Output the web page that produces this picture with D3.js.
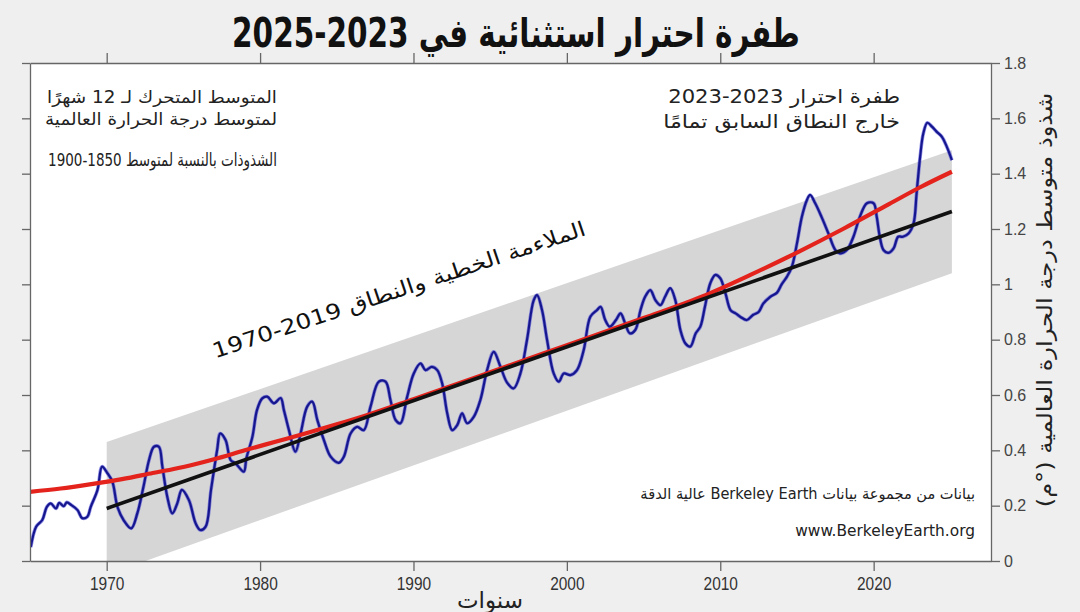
<!DOCTYPE html>
<html><head><meta charset="utf-8">
<script src="https://cdn.jsdelivr.net/npm/d3@7"></script>
<style>
html,body{margin:0;padding:0;background:#efefef;}
svg{display:block;}
text{font-family:"Liberation Sans","DejaVu Sans",sans-serif;}
</style></head>
<body><svg id="c" width="1080" height="612"></svg>
<script>
// ---------- data ----------
const blueYears = [1965.05,1965.4,1965.8,1966.1,1966.35,1966.7,1966.9,1967.2,1967.4,1967.7,1968.1,1968.4,1968.74,1968.96,1969.4,1969.7,1970.04,1970.37,1970.7,1971.1,1971.6,1972.0,1972.4,1972.76,1973.08,1973.4,1973.63,1973.95,1974.28,1974.6,1974.9,1975.36,1975.8,1976.1,1976.45,1976.8,1977.2,1977.4,1977.75,1978.08,1978.4,1978.94,1979.1,1979.5,1979.8,1980.14,1980.47,1980.9,1981.34,1981.55,1981.88,1982.3,1982.64,1983.07,1983.4,1983.73,1984.16,1984.6,1985.13,1985.46,1985.9,1986.33,1986.76,1987.2,1987.74,1988.18,1988.5,1988.83,1989.15,1989.59,1990.02,1990.46,1990.78,1991.2,1991.55,1991.87,1992.2,1992.52,1992.85,1993.17,1993.5,1993.93,1994.36,1994.8,1995.23,1995.67,1996.1,1996.53,1996.97,1997.4,1997.84,1998.06,1998.38,1998.71,1999.14,1999.47,1999.8,2000.23,2000.66,2001.1,2001.53,2001.97,2002.2,2002.5,2002.8,2003.2,2003.5,2003.8,2004.1,2004.46,2004.8,2005.1,2005.44,2005.77,2006.1,2006.4,2006.74,2007.07,2007.4,2007.72,2008.05,2008.4,2008.7,2009.0,2009.35,2009.68,2010.0,2010.34,2010.67,2011.0,2011.3,2011.73,2012.15,2012.5,2012.8,2013.26,2013.7,2014.0,2014.35,2014.67,2015.0,2015.32,2015.65,2015.86,2016.19,2016.6,2017.05,2017.5,2017.8,2018.25,2018.68,2019.1,2019.56,2020.0,2020.2,2020.4,2020.64,2020.96,2021.3,2021.6,2021.9,2022.27,2022.6,2022.8,2023.03,2023.24,2023.5,2023.8,2024.1,2024.44,2024.77,2025.1];
const blueValues = [0.05,0.124,0.148,0.196,0.208,0.19,0.21,0.198,0.212,0.202,0.184,0.155,0.16,0.196,0.257,0.341,0.318,0.287,0.196,0.148,0.118,0.173,0.269,0.365,0.413,0.413,0.341,0.232,0.172,0.208,0.257,0.22,0.136,0.112,0.124,0.257,0.401,0.461,0.437,0.365,0.353,0.323,0.37,0.449,0.546,0.588,0.594,0.57,0.589,0.546,0.473,0.395,0.461,0.558,0.576,0.51,0.437,0.377,0.355,0.377,0.461,0.485,0.473,0.558,0.648,0.648,0.582,0.51,0.498,0.594,0.678,0.714,0.69,0.702,0.69,0.642,0.534,0.473,0.491,0.534,0.498,0.521,0.582,0.69,0.756,0.702,0.645,0.624,0.678,0.799,0.943,0.961,0.907,0.799,0.678,0.648,0.678,0.672,0.69,0.763,0.883,0.907,0.919,0.871,0.847,0.871,0.895,0.859,0.823,0.835,0.907,0.955,0.979,0.943,0.925,0.955,0.986,0.943,0.835,0.787,0.775,0.823,0.847,0.919,1.004,1.034,1.022,0.967,0.907,0.895,0.883,0.871,0.89,0.90,0.93,0.955,0.97,1.0,1.028,1.064,1.148,1.244,1.305,1.323,1.293,1.244,1.184,1.124,1.112,1.124,1.172,1.244,1.293,1.293,1.244,1.172,1.124,1.114,1.13,1.172,1.172,1.184,1.22,1.329,1.461,1.546,1.584,1.57,1.552,1.534,1.497,1.449];

const fitYears  = [1965,1967,1969,1971,1973,1975,1977,1979,1981,1983,1985,1987,1990,1995,2000,2005,2009,2012,2015,2018,2021,2023,2025.1];
const fitValues = [0.25,0.262,0.278,0.296,0.318,0.34,0.368,0.40,0.431,0.462,0.494,0.528,0.585,0.682,0.78,0.878,0.96,1.035,1.115,1.20,1.29,1.35,1.407];

const linYears  = [1970,2025.1];
const linValues = [0.19,1.263];
const bandYears = [1970,2025.1];
const bandLow   = [-0.05,1.04];
const bandHigh  = [0.43,1.485];

const xTicks = [1970,1980,1990,2000,2010,2020];
const yTicks = [0,0.2,0.4,0.6,0.8,1,1.2,1.4,1.6,1.8];
const yTickLabels = ["0","0.2","0.4","0.6","0.8","1","1.2","1.4","1.6","1.8"];

// ---------- layout ----------
const svg = d3.select("#c");
const L = 30, R = 991, T = 63, B = 561;
const x = d3.scaleLinear().domain([1965, 2027.65]).range([L, R]);
const y = d3.scaleLinear().domain([0, 1.8]).range([B, T]);

svg.append("rect").attr("width",1080).attr("height",612).attr("fill","#efefef");
svg.append("rect").attr("x",L).attr("y",T).attr("width",R-L).attr("height",B-T).attr("fill","#ffffff");

svg.append("clipPath").attr("id","pc").append("rect")
  .attr("x",L).attr("y",T).attr("width",R-L).attr("height",B-T);
const plot = svg.append("g").attr("clip-path","url(#pc)");

const bandData = bandYears.map((yr,i)=>({yr, lo:bandLow[i], hi:bandHigh[i]}));
plot.append("path").datum(bandData)
  .attr("fill","#d6d6d6")
  .attr("d", d3.area().x(d=>x(d.yr)).y0(d=>y(d.lo)).y1(d=>y(d.hi)));

const blue = blueYears.map((yr,i)=>[yr, blueValues[i]]);
const lineGen = d3.line().x(d=>x(d[0])).y(d=>y(d[1])).curve(d3.curveCatmullRom.alpha(0.5));
plot.append("path").datum(blue).attr("fill","none")
  .attr("stroke","#3c3cd8").attr("stroke-width",3.6).attr("stroke-opacity",0.55)
  .attr("stroke-linejoin","round").attr("d", lineGen);
plot.append("path").datum(blue).attr("fill","none")
  .attr("stroke","#16168e").attr("stroke-width",2.2)
  .attr("stroke-linejoin","round").attr("d", lineGen);

const fit = fitYears.map((yr,i)=>[yr, fitValues[i]]);
plot.append("path").datum(fit).attr("fill","none")
  .attr("stroke","#e3231c").attr("stroke-width",4.2)
  .attr("d", d3.line().x(d=>x(d[0])).y(d=>y(d[1])).curve(d3.curveMonotoneX));

const lin = linYears.map((yr,i)=>[yr, linValues[i]]);
plot.append("path").datum(lin).attr("fill","none")
  .attr("stroke","#111111").attr("stroke-width",3.6)
  .attr("d", d3.line().x(d=>x(d[0])).y(d=>y(d[1])));

// ---------- axes ----------
const axisColor = "#666";
function styleAxis(g){
  g.select(".domain").attr("stroke",axisColor).attr("stroke-width",1.3);
  g.selectAll(".tick line").attr("stroke",axisColor).attr("stroke-width",1.3);
}
svg.append("g").attr("transform",`translate(0,${T})`)
  .call(d3.axisTop(x).tickValues(xTicks).tickSize(10).tickSizeOuter(0).tickFormat(""))
  .call(styleAxis);
const xb = svg.append("g").attr("transform",`translate(0,${B})`)
  .call(d3.axisBottom(x).tickValues(xTicks).tickSize(10).tickSizeOuter(0).tickPadding(6).tickFormat(d3.format("d")))
  .call(styleAxis);
xb.selectAll(".tick text").attr("fill","#333").attr("font-size",18)
  .attr("transform","scale(0.86,1)")
  .style("font-family","'Liberation Sans',sans-serif");
svg.append("g").attr("transform",`translate(${L},0)`)
  .call(d3.axisLeft(y).tickValues(yTicks).tickSize(8).tickSizeOuter(0).tickFormat(""))
  .call(styleAxis);
const yr = svg.append("g").attr("transform",`translate(${R},0)`)
  .call(d3.axisRight(y).tickValues(yTicks).tickSize(9).tickSizeOuter(0).tickPadding(4)
    .tickFormat((d,i)=>yTickLabels[i]))
  .call(styleAxis);
yr.selectAll(".tick text").attr("fill","#444").attr("font-size",16);

// ---------- texts ----------
const arab = "'DejaVu Sans','Noto Sans',sans-serif";
function fitW(sel, w){
  const bb = sel.node().getBBox();
  const k = w / bb.width;
  const ax = +sel.attr("x");
  sel.attr("transform", `translate(${ax*(1-k)},0) scale(${k},1)`);
}

// title
const title = svg.append("text").attr("x",516).attr("y",47).attr("text-anchor","middle")
  .attr("direction","rtl").attr("font-size",40).attr("font-weight","bold").attr("fill","#111")
  .style("font-family",arab).text("طفرة احترار استثنائية في 2023-2025");
fitW(title, 568);

function rtext(xp, yp, size, str, w, anchor="end", dir="rtl"){
  const t = svg.append("text").attr("x",xp).attr("y",yp).attr("font-size",size)
    .attr("fill","#222").attr("text-anchor",anchor).attr("direction",dir)
    .style("font-family",arab).text(str);
  if (w) fitW(t, w);
  return t;
}
// top-left
rtext(277,103,17,"المتوسط المتحرك لـ 12 شهرًا",230,"start");
rtext(277,125,17,"لمتوسط درجة الحرارة العالمية",232,"start");
rtext(277,166,18,"الشذوذات بالنسبة لمتوسط 1850-1900",229,"start");
// top-right
rtext(900,103,19,"طفرة احترار 2023-2023",232,"start");
rtext(900,128,19,"خارج النطاق السابق تمامًا",237,"start");
// bottom right
rtext(975,499,15,"بيانات من مجموعة بيانات Berkeley Earth عالية الدقة",335,"start","rtl");
rtext(975,536,15,"www.BerkeleyEarth.org",180,"end","ltr");

// slanted fit label
const sl = svg.append("g").attr("transform","translate(399,290) rotate(-18.4)");
const slt = sl.append("text").attr("x",0).attr("y",7).attr("text-anchor","middle")
  .attr("font-size",21).attr("fill","#111").style("font-family",arab)
  .text("1970-2019 الملاءمة الخطية والنطاق");
fitW(slt, 392);

// right axis title
const ry = svg.append("g").attr("transform","translate(1052,300) rotate(-90)");
const ryt = ry.append("text").attr("x",0).attr("y",0).attr("text-anchor","middle")
  .attr("direction","rtl").attr("font-size",21).attr("fill","#222").style("font-family",arab)
  .text("شذوذ متوسط درجة الحرارة العالمية (°م)");
fitW(ryt, 415);

// x axis title
svg.append("text").attr("x",490).attr("y",608).attr("text-anchor","middle")
  .attr("font-size",23).attr("fill","#222").style("font-family",arab).text("سنوات");
</script></body></html>
